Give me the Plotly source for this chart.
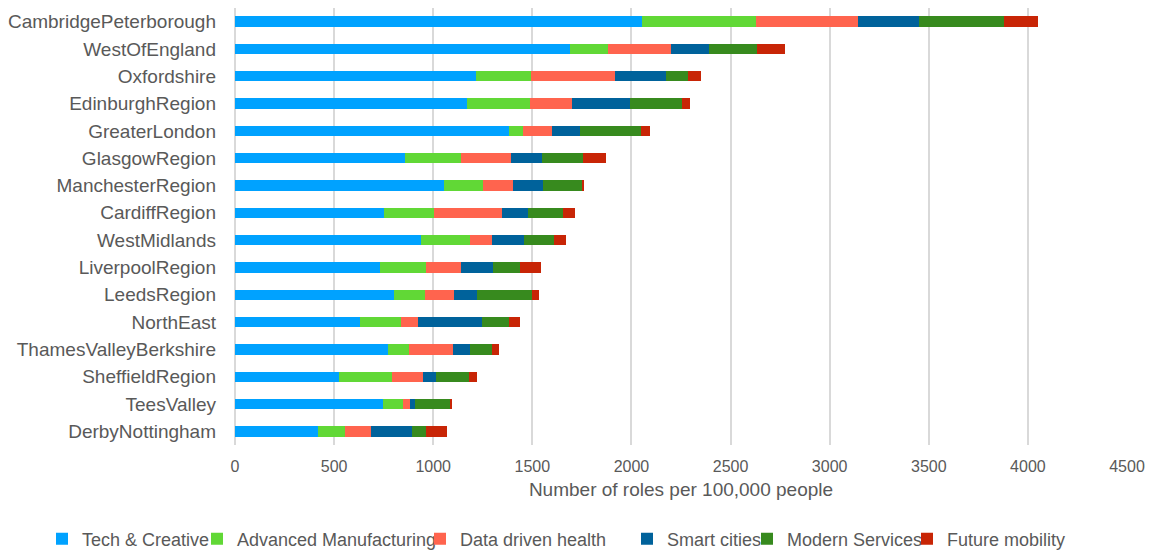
import plotly.graph_objects as go

regions = ["CambridgePeterborough", "WestOfEngland", "Oxfordshire", "EdinburghRegion",
           "GreaterLondon", "GlasgowRegion", "ManchesterRegion", "CardiffRegion",
           "WestMidlands", "LiverpoolRegion", "LeedsRegion", "NorthEast",
           "ThamesValleyBerkshire", "SheffieldRegion", "TeesValley", "DerbyNottingham"]

tech_creative = [2052, 1689, 1215, 1171, 1383, 860, 1053, 754, 936, 730, 801, 629, 771, 525, 749, 421]
advanced_manufacturing = [576, 195, 279, 316, 70, 282, 197, 252, 252, 236, 160, 207, 106, 267, 96, 136]
data_driven_health = [515, 315, 421, 214, 144, 249, 151, 340, 106, 173, 143, 86, 222, 155, 37, 128]
smart_cities = [307, 192, 257, 291, 143, 157, 155, 131, 163, 165, 116, 323, 84, 66, 27, 207]
modern_services = [429, 242, 111, 261, 307, 207, 195, 177, 151, 136, 277, 138, 111, 168, 174, 74]
future_mobility = [174, 143, 67, 43, 49, 119, 12, 60, 63, 106, 36, 55, 38, 40, 14, 101]

series = [
    ("Tech & Creative", tech_creative, "#00A2FF"),
    ("Advanced Manufacturing", advanced_manufacturing, "#61D836"),
    ("Data driven health", data_driven_health, "#FF644E"),
    ("Smart cities", smart_cities, "#00629B"),
    ("Modern Services", modern_services, "#378A1E"),
    ("Future mobility", future_mobility, "#C82506"),
]

W, H = 1145, 543
# left edge (px) of each legend entry, one legend per series so the row matches the original spacing
legend_left_px = [34, 189, 412, 619, 739, 899]

fig = go.Figure()
legend_layouts = {}
for i, (name, vals, color) in enumerate(series):
    lname = "legend" if i == 0 else f"legend{i + 1}"
    fig.add_trace(go.Bar(
        y=regions, x=vals, name=name, orientation="h",
        marker=dict(color=color, line=dict(width=0)),
        legend=lname, showlegend=True,
    ))
    legend_layouts[lname] = dict(
        orientation="h", xref="container", x=legend_left_px[i] / W, xanchor="left",
        yref="container", y=(H - 531) / H, yanchor="middle",
        font=dict(size=18, color="#595959"),
        bgcolor="rgba(0,0,0,0)", borderwidth=0, visible=True,
    )

font_family = "Liberation Sans, Arial, sans-serif"
fig.update_layout(
    showlegend=True,
    barmode="stack",
    bargap=0.62,
    width=W, height=H,
    margin=dict(l=227, r=26, t=0, b=106, autoexpand=False),
    paper_bgcolor="white", plot_bgcolor="white",
    font=dict(family=font_family, color="#595959", size=18),
    xaxis=dict(
        range=[0, 4500], dtick=500, tick0=0, automargin=False,
        showgrid=True, gridcolor="#D9D9D9", gridwidth=1.5,
        zeroline=True, zerolinecolor="#D9D9D9", zerolinewidth=1.5,
        tickfont=dict(size=16, color="#595959"),
        ticks="", ticklabelstandoff=10,
        title=dict(text="Number of roles per 100,000 people",
                   font=dict(size=19, color="#595959"), standoff=8),
        fixedrange=True,
    ),
    yaxis=dict(
        categoryorder="array", categoryarray=regions, autorange="reversed",
        automargin=False,
        tickfont=dict(size=19, color="#595959"),
        ticks="", ticklabelstandoff=18, showgrid=False,
    ),
    **legend_layouts,
)

fig.write_html("out.html")
